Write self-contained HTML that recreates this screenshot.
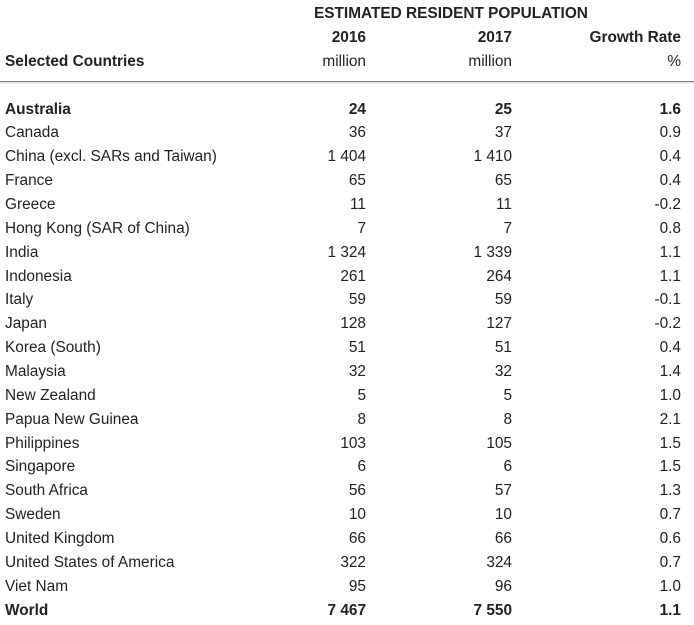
<!DOCTYPE html>
<html><head><meta charset="utf-8"><style>
body{margin:0;width:694px;height:625px;background:#fff;position:relative;font-family:"Liberation Sans",Arial,sans-serif;font-size:15.4px;color:#222;overflow:hidden}
.t{position:absolute;white-space:nowrap;line-height:16px}
.r{text-align:right}
.b{font-weight:bold}
</style></head><body>
<div class="t b" style="left:314px;top:6px">ESTIMATED RESIDENT POPULATION</div>
<div class="t b r" style="right:328px;top:30px">2016</div>
<div class="t b r" style="right:182px;top:30px">2017</div>
<div class="t b r" style="right:13px;top:30px">Growth Rate</div>
<div class="t b" style="left:5px;top:54px">Selected Countries</div>
<div class="t r" style="right:328px;top:54px">million</div>
<div class="t r" style="right:182px;top:54px">million</div>
<div class="t r" style="right:13px;top:54px">%</div>
<div style="position:absolute;left:0;top:81px;width:694px;height:1px;background:#777"></div>
<div style="position:absolute;left:0;top:82px;width:694px;height:2px;background:#e4e4e4"></div>
<div id="rows"></div>
<script>
const countries=["Australia","Canada","China (excl. SARs and Taiwan)","France","Greece","Hong Kong (SAR of China)","India","Indonesia","Italy","Japan","Korea (South)","Malaysia","New Zealand","Papua New Guinea","Philippines","Singapore","South Africa","Sweden","United Kingdom","United States of America","Viet Nam","World"];
const pop2016=["24","36","1 404","65","11","7","1 324","261","59","128","51","32","5","8","103","6","56","10","66","322","95","7 467"];
const pop2017=["25","37","1 410","65","11","7","1 339","264","59","127","51","32","5","8","105","6","57","10","66","324","96","7 550"];
const growth=["1.6","0.9","0.4","0.4","-0.2","0.8","1.1","1.1","-0.1","-0.2","0.4","1.4","1.0","2.1","1.5","1.5","1.3","0.7","0.6","0.7","1.0","1.1"];
const bold=[true,false,false,false,false,false,false,false,false,false,false,false,false,false,false,false,false,false,false,false,false,true];
const wrap=document.getElementById('rows');
countries.forEach((c,i)=>{
  const top=101.5+i*23.86;
  const cells=[[c,'left:5px','country'],[pop2016[i],'right:328px','value-2016'],[pop2017[i],'right:182px','value-2017'],[growth[i],'right:13px','growth-rate']];
  cells.forEach((cell,j)=>{
    const d=document.createElement('div');
    d.className='t'+(j>0?' r':'')+(bold[i]?' b':'');
    d.setAttribute('style',cell[1]+';top:'+top+'px');
    d.textContent=cell[0];
    
    
    wrap.appendChild(d);
  });
});
</script>
</body></html>
